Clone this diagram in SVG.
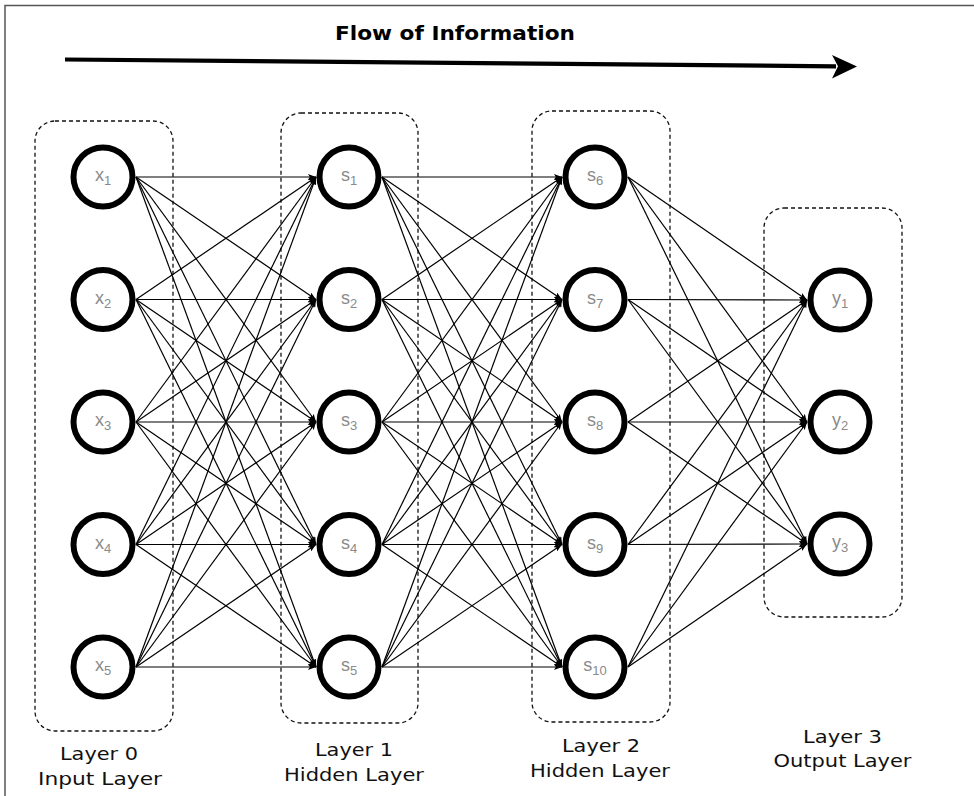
<svg xmlns="http://www.w3.org/2000/svg" width="974" height="796" viewBox="0 0 974 796">
  <defs>
    <style>
      .frame { fill: none; stroke: #555; stroke-width: 1.5; }
      .layer { fill: none; stroke: #111; stroke-width: 1.3; stroke-dasharray: 4 3; }
      .node circle { fill: #fff; stroke: #000; stroke-width: 6; }
      .node text { font-family: "Liberation Sans", Arial, sans-serif; font-size: 18px; fill: #8a8a8a; text-anchor: middle; }
      .node tspan.sub { font-size: 13px; }
      .edges line { stroke: #000; stroke-width: 1.2; marker-end: url(#tip); }
      .caption { font-family: "DejaVu Sans", Verdana, sans-serif; font-size: 18.5px; fill: #111; text-anchor: middle; }
      .title { font-family: "DejaVu Sans", Verdana, sans-serif; font-size: 19.5px; font-weight: bold; fill: #000; text-anchor: middle; }
    </style>
    <marker id="tip" viewBox="0 0 8 6" markerWidth="8" markerHeight="6" refX="8" refY="3" orient="auto" markerUnits="userSpaceOnUse">
      <path d="M0,0 L8,3 L0,6 L1.8,3 Z" fill="#000"/>
    </marker>
  </defs>

  <rect width="974" height="796" fill="#fff"/>
  <rect class="frame" x="5" y="5.5" width="1000" height="820"/>

  <!-- heading and direction arrow -->
  <g id="flow">
    <text class="title" x="455" y="40" textLength="240" lengthAdjust="spacingAndGlyphs">Flow of Information</text>
    <line x1="65" y1="59.5" x2="836" y2="66.3" stroke="#000" stroke-width="4.2"/>
    <path d="M857,66.6 L832,55 L838,66.3 L832,78.5 Z" fill="#000"/>
  </g>

  <!-- layer frames -->
  <g id="layer0"><rect class="layer" x="35" y="121" width="138" height="610" rx="20"/></g>
  <g id="layer1"><rect class="layer" x="281" y="113" width="137" height="610" rx="20"/></g>
  <g id="layer2"><rect class="layer" x="532" y="111" width="138" height="611" rx="20"/></g>
  <g id="layer3"><rect class="layer" x="764" y="208" width="138" height="409" rx="20"/></g>

  <!-- connections: each right port to every next-layer left port -->
  <g class="edges" id="connectors">
    <!-- x -> s1..s5 -->
    <line x1="136" y1="177" x2="316" y2="177"/><line x1="136" y1="177" x2="316" y2="299.5"/><line x1="136" y1="177" x2="316" y2="422"/><line x1="136" y1="177" x2="316" y2="544.5"/><line x1="136" y1="177" x2="316" y2="667"/>
    <line x1="136" y1="299.5" x2="316" y2="177"/><line x1="136" y1="299.5" x2="316" y2="299.5"/><line x1="136" y1="299.5" x2="316" y2="422"/><line x1="136" y1="299.5" x2="316" y2="544.5"/><line x1="136" y1="299.5" x2="316" y2="667"/>
    <line x1="136" y1="422" x2="316" y2="177"/><line x1="136" y1="422" x2="316" y2="299.5"/><line x1="136" y1="422" x2="316" y2="422"/><line x1="136" y1="422" x2="316" y2="544.5"/><line x1="136" y1="422" x2="316" y2="667"/>
    <line x1="136" y1="544.5" x2="316" y2="177"/><line x1="136" y1="544.5" x2="316" y2="299.5"/><line x1="136" y1="544.5" x2="316" y2="422"/><line x1="136" y1="544.5" x2="316" y2="544.5"/><line x1="136" y1="544.5" x2="316" y2="667"/>
    <line x1="136" y1="667" x2="316" y2="177"/><line x1="136" y1="667" x2="316" y2="299.5"/><line x1="136" y1="667" x2="316" y2="422"/><line x1="136" y1="667" x2="316" y2="544.5"/><line x1="136" y1="667" x2="316" y2="667"/>
    <!-- s1..s5 -> s6..s10 -->
    <line x1="382" y1="177" x2="562" y2="177"/><line x1="382" y1="177" x2="562" y2="299.5"/><line x1="382" y1="177" x2="562" y2="422"/><line x1="382" y1="177" x2="562" y2="544.5"/><line x1="382" y1="177" x2="562" y2="667"/>
    <line x1="382" y1="299.5" x2="562" y2="177"/><line x1="382" y1="299.5" x2="562" y2="299.5"/><line x1="382" y1="299.5" x2="562" y2="422"/><line x1="382" y1="299.5" x2="562" y2="544.5"/><line x1="382" y1="299.5" x2="562" y2="667"/>
    <line x1="382" y1="422" x2="562" y2="177"/><line x1="382" y1="422" x2="562" y2="299.5"/><line x1="382" y1="422" x2="562" y2="422"/><line x1="382" y1="422" x2="562" y2="544.5"/><line x1="382" y1="422" x2="562" y2="667"/>
    <line x1="382" y1="544.5" x2="562" y2="177"/><line x1="382" y1="544.5" x2="562" y2="299.5"/><line x1="382" y1="544.5" x2="562" y2="422"/><line x1="382" y1="544.5" x2="562" y2="544.5"/><line x1="382" y1="544.5" x2="562" y2="667"/>
    <line x1="382" y1="667" x2="562" y2="177"/><line x1="382" y1="667" x2="562" y2="299.5"/><line x1="382" y1="667" x2="562" y2="422"/><line x1="382" y1="667" x2="562" y2="544.5"/><line x1="382" y1="667" x2="562" y2="667"/>
    <!-- s6..s10 -> y -->
    <line x1="628" y1="177" x2="807" y2="300"/><line x1="628" y1="177" x2="807" y2="422"/><line x1="628" y1="177" x2="807" y2="544"/>
    <line x1="628" y1="299.5" x2="807" y2="300"/><line x1="628" y1="299.5" x2="807" y2="422"/><line x1="628" y1="299.5" x2="807" y2="544"/>
    <line x1="628" y1="422" x2="807" y2="300"/><line x1="628" y1="422" x2="807" y2="422"/><line x1="628" y1="422" x2="807" y2="544"/>
    <line x1="628" y1="544.5" x2="807" y2="300"/><line x1="628" y1="544.5" x2="807" y2="422"/><line x1="628" y1="544.5" x2="807" y2="544"/>
    <line x1="628" y1="667" x2="807" y2="300"/><line x1="628" y1="667" x2="807" y2="422"/><line x1="628" y1="667" x2="807" y2="544"/>
  </g>

  <!-- input layer -->
  <g class="node" id="x1"><circle cx="103" cy="177" r="29.5"/><text x="103" y="181">x<tspan class="sub" dy="4">1</tspan></text></g>
  <g class="node" id="x2"><circle cx="103" cy="299.5" r="29.5"/><text x="103" y="303.5">x<tspan class="sub" dy="4">2</tspan></text></g>
  <g class="node" id="x3"><circle cx="103" cy="422" r="29.5"/><text x="103" y="426">x<tspan class="sub" dy="4">3</tspan></text></g>
  <g class="node" id="x4"><circle cx="103" cy="544.5" r="29.5"/><text x="103" y="548.5">x<tspan class="sub" dy="4">4</tspan></text></g>
  <g class="node" id="x5"><circle cx="103" cy="667" r="29.5"/><text x="103" y="671">x<tspan class="sub" dy="4">5</tspan></text></g>

  <!-- hidden layer 1 -->
  <g class="node" id="s1"><circle cx="349" cy="177" r="29.5"/><text x="349" y="181">s<tspan class="sub" dy="4">1</tspan></text></g>
  <g class="node" id="s2"><circle cx="349" cy="299.5" r="29.5"/><text x="349" y="303.5">s<tspan class="sub" dy="4">2</tspan></text></g>
  <g class="node" id="s3"><circle cx="349" cy="422" r="29.5"/><text x="349" y="426">s<tspan class="sub" dy="4">3</tspan></text></g>
  <g class="node" id="s4"><circle cx="349" cy="544.5" r="29.5"/><text x="349" y="548.5">s<tspan class="sub" dy="4">4</tspan></text></g>
  <g class="node" id="s5"><circle cx="349" cy="667" r="29.5"/><text x="349" y="671">s<tspan class="sub" dy="4">5</tspan></text></g>

  <!-- hidden layer 2 -->
  <g class="node" id="s6"><circle cx="595" cy="177" r="29.5"/><text x="595" y="181">s<tspan class="sub" dy="4">6</tspan></text></g>
  <g class="node" id="s7"><circle cx="595" cy="299.5" r="29.5"/><text x="595" y="303.5">s<tspan class="sub" dy="4">7</tspan></text></g>
  <g class="node" id="s8"><circle cx="595" cy="422" r="29.5"/><text x="595" y="426">s<tspan class="sub" dy="4">8</tspan></text></g>
  <g class="node" id="s9"><circle cx="595" cy="544.5" r="29.5"/><text x="595" y="548.5">s<tspan class="sub" dy="4">9</tspan></text></g>
  <g class="node" id="s10"><circle cx="595" cy="667" r="29.5"/><text x="595" y="671">s<tspan class="sub" dy="4">10</tspan></text></g>

  <!-- output layer -->
  <g class="node" id="y1"><circle cx="840" cy="300" r="29.5"/><text x="840" y="304">y<tspan class="sub" dy="4">1</tspan></text></g>
  <g class="node" id="y2"><circle cx="840" cy="422" r="29.5"/><text x="840" y="426">y<tspan class="sub" dy="4">2</tspan></text></g>
  <g class="node" id="y3"><circle cx="840" cy="544" r="29.5"/><text x="840" y="548">y<tspan class="sub" dy="4">3</tspan></text></g>

  <!-- layer captions -->
  <g id="captions">
    <text class="caption" x="99" y="760" textLength="78" lengthAdjust="spacingAndGlyphs">Layer 0</text>
    <text class="caption" x="100" y="785" textLength="124" lengthAdjust="spacingAndGlyphs">Input Layer</text>
    <text class="caption" x="354" y="756" textLength="78" lengthAdjust="spacingAndGlyphs">Layer 1</text>
    <text class="caption" x="354" y="781" textLength="140" lengthAdjust="spacingAndGlyphs">Hidden Layer</text>
    <text class="caption" x="601" y="752" textLength="78" lengthAdjust="spacingAndGlyphs">Layer 2</text>
    <text class="caption" x="600" y="777" textLength="140" lengthAdjust="spacingAndGlyphs">Hidden Layer</text>
    <text class="caption" x="842.5" y="743" textLength="79" lengthAdjust="spacingAndGlyphs">Layer 3</text>
    <text class="caption" x="842.5" y="767" textLength="138" lengthAdjust="spacingAndGlyphs">Output Layer</text>
  </g>
</svg>
